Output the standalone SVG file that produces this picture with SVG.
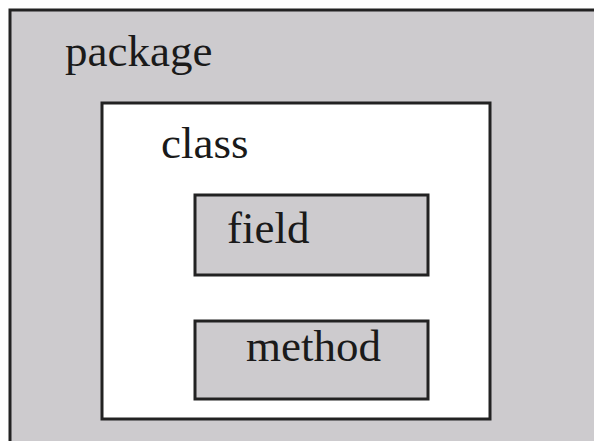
<svg xmlns="http://www.w3.org/2000/svg" width="594" height="441" viewBox="0 0 594 441">
<style>
.box{stroke:#222;stroke-width:3}
.gray{fill:#cdcbce}
.white{fill:#fff}
.lbl{font-family:"Liberation Serif","Times New Roman",serif;font-size:45px;fill:#1a1a1a}
</style>
<rect x="0" y="0" width="594" height="441" fill="#fff"/>
<g id="package">
<rect class="box gray" x="10" y="10" width="600" height="450"/>
<text class="lbl" x="65" y="66">package</text>
</g>
<g id="class">
<rect class="box white" x="102" y="103" width="388" height="316"/>
<text class="lbl" x="161" y="158">class</text>
</g>
<g id="field">
<rect class="box gray" x="195" y="195" width="233" height="80"/>
<text class="lbl" x="227" y="243">field</text>
</g>
<g id="method">
<rect class="box gray" x="195" y="321" width="233" height="78"/>
<text class="lbl" x="246" y="361">method</text>
</g>
<g id="connectors"/>
</svg>
